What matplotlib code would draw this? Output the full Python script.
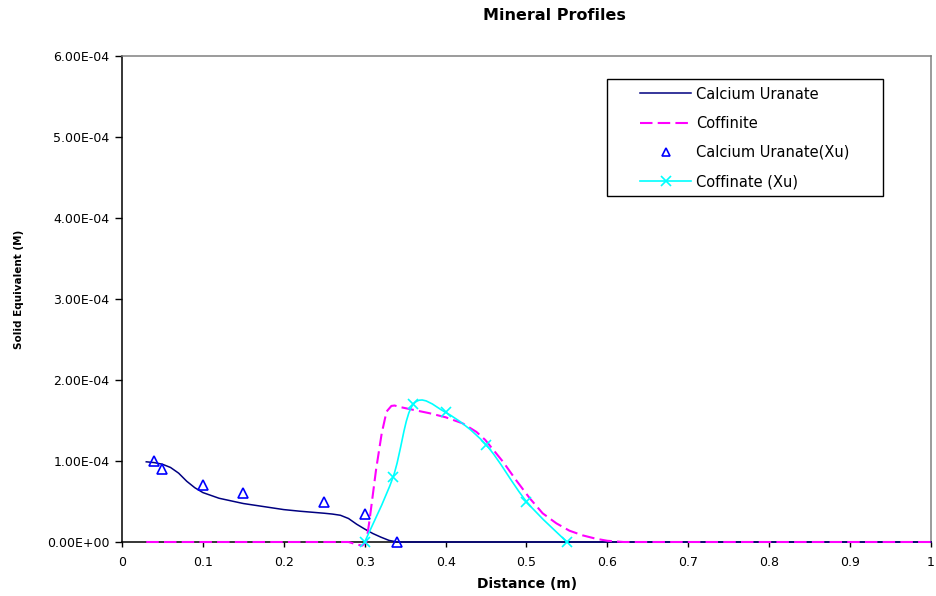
import numpy as np
import matplotlib
matplotlib.use("Agg")
import matplotlib.pyplot as plt
from matplotlib.path import Path
from matplotlib.patches import PathPatch, Rectangle
from matplotlib.lines import Line2D

# model: calcium uranate profile (M) vs distance (m)
ca_x = [0.03, 0.04, 0.05, 0.06, 0.07, 0.08, 0.09, 0.10, 0.12, 0.15, 0.18, 0.20,
        0.22, 0.25, 0.26, 0.27, 0.28, 0.29, 0.30, 0.31, 0.32, 0.33, 0.34, 1.00]
ca_y = [0.99e-4, 0.98e-4, 0.96e-4, 0.92e-4, 0.85e-4, 0.75e-4, 0.67e-4, 0.61e-4,
        0.54e-4, 0.475e-4, 0.43e-4, 0.40e-4, 0.38e-4, 0.355e-4, 0.345e-4, 0.33e-4,
        0.29e-4, 0.22e-4, 0.16e-4, 0.105e-4, 0.06e-4, 0.02e-4, 0.0, 0.0]

# model: coffinite profile
cof_x = [0.03, 0.28, 0.29, 0.297, 0.302, 0.306, 0.314, 0.321, 0.327, 0.333, 0.337,
         0.342, 0.356, 0.38, 0.40, 0.421, 0.438, 0.449, 0.471, 0.487, 0.504, 0.52,
         0.537, 0.553, 0.569, 0.586, 0.60, 0.62, 1.00]
cof_y = [0.0, 0.0, -0.03e-4, -0.045e-4, 0.0, 0.27e-4, 0.89e-4, 1.34e-4, 1.61e-4,
         1.68e-4, 1.685e-4, 1.67e-4, 1.64e-4, 1.59e-4, 1.54e-4, 1.465e-4, 1.36e-4,
         1.26e-4, 0.99e-4, 0.765e-4, 0.54e-4, 0.354e-4, 0.23e-4, 0.14e-4, 0.083e-4,
         0.04e-4, 0.015e-4, 0.0, 0.0]

# Xu data
xu_ca_x = [0.04, 0.05, 0.10, 0.15, 0.25, 0.30, 0.34]
xu_ca_y = [1.0e-4, 0.9e-4, 0.7e-4, 0.6e-4, 0.5e-4, 0.35e-4, 0.0]

xu_cof_x = [0.30, 0.335, 0.36, 0.40, 0.45, 0.50, 0.55]
xu_cof_y = [0.0, 0.8e-4, 1.7e-4, 1.6e-4, 1.2e-4, 0.5e-4, 0.0]

x_ticks = [0, 0.1, 0.2, 0.3, 0.4, 0.5, 0.6, 0.7, 0.8, 0.9, 1]
y_ticks = [0, 1e-4, 2e-4, 3e-4, 4e-4, 5e-4, 6e-4]


def smooth_path(xs, ys):
    # Catmull-Rom style bezier through the points (spreadsheet "smoothed line")
    pts = np.column_stack([xs, ys])
    n = len(pts)
    verts = [pts[0]]
    codes = [Path.MOVETO]
    for i in range(n - 1):
        p0 = pts[max(i - 1, 0)]
        p1 = pts[i]
        p2 = pts[i + 1]
        p3 = pts[min(i + 2, n - 1)]
        verts += [p1 + (p2 - p0) / 6, p2 - (p3 - p1) / 6, p2]
        codes += [Path.CURVE4] * 3
    return Path(verts, codes)


W, H = 937, 596
fig = plt.figure(figsize=(W / 100, H / 100), dpi=100)
ax = fig.add_axes([122 / W, 1 - 542 / H, 809 / W, 486 / H])

ax.plot(ca_x, ca_y, color="#000080", lw=1.1, zorder=3, clip_on=False)
ax.plot(cof_x, cof_y, color="#FF00FF", lw=1.5, dashes=(6, 2.5), zorder=4,
        clip_on=False)
ax.plot(xu_ca_x, xu_ca_y, ls="none", marker="^", ms=6.5, mfc="none",
        mec="#0000FF", mew=1.2, zorder=5, clip_on=False)
ax.add_patch(PathPatch(smooth_path(xu_cof_x, xu_cof_y), fc="none",
                       ec="#00FFFF", lw=1.2, zorder=6, clip_on=False))
ax.plot(xu_cof_x, xu_cof_y, ls="none", marker="x", ms=7, mec="#00FFFF",
        mew=1.2, zorder=7, clip_on=False)

ax.set_xlim(0, 1)
ax.set_ylim(0, 6e-4)
ax.set_xticks(x_ticks)
ax.set_xticklabels(["{:g}".format(v) for v in x_ticks])
ax.set_yticks(y_ticks)
ax.set_yticklabels(["{:.2E}".format(v) for v in y_ticks])
ax.tick_params(axis="y", direction="out", length=5, width=1, pad=4, labelsize=9)
ax.tick_params(axis="x", direction="out", length=3.5, width=1, pad=6.5, labelsize=9)

for s in ["left", "bottom"]:
    ax.spines[s].set_color("black")
    ax.spines[s].set_linewidth(1.1)
for s in ["top", "right"]:
    ax.spines[s].set_color("#808080")
    ax.spines[s].set_linewidth(1.1)

fig.text(554.5 / W, 1 - 16 / H, "Mineral Profiles", ha="center", va="center",
         fontsize=11.5, fontweight="bold")
fig.text(527 / W, 1 - 584 / H, "Distance (m)", ha="center", va="center",
         fontsize=10, fontweight="bold")
fig.text(19 / W, 1 - 289 / H, "Solid Equivalent (M)", ha="center", va="center",
         rotation=90, fontsize=7.5, fontweight="bold")

# legend entries, boxed by a separate frame
handles = [
    Line2D([], [], color="#000080", lw=1.1),
    Line2D([], [], color="#FF00FF", lw=1.5, dashes=(6, 2.5)),
    Line2D([], [], ls="none", marker="^", ms=6, mfc="none", mec="#0000FF", mew=1.2),
    Line2D([], [], color="#00FFFF", lw=1.2, marker="x", ms=7, mew=1.2),
]
labels = ["Calcium Uranate", "Coffinite", "Calcium Uranate(Xu)", "Coffinate (Xu)"]
fig.legend(handles, labels, loc="upper left",
           bbox_to_anchor=(640 / W, 1 - 86.6 / H), borderaxespad=0, borderpad=0,
           fontsize=10.5, handlelength=3.5, handletextpad=0.34,
           labelspacing=0.97, frameon=False)
fig.patches.append(Rectangle((607 / W, 1 - 196 / H), 276 / W, 117 / H,
                             transform=fig.transFigure, fc="white", ec="black",
                             lw=1.0, zorder=0.5))

fig.savefig("out.png", dpi=100)
